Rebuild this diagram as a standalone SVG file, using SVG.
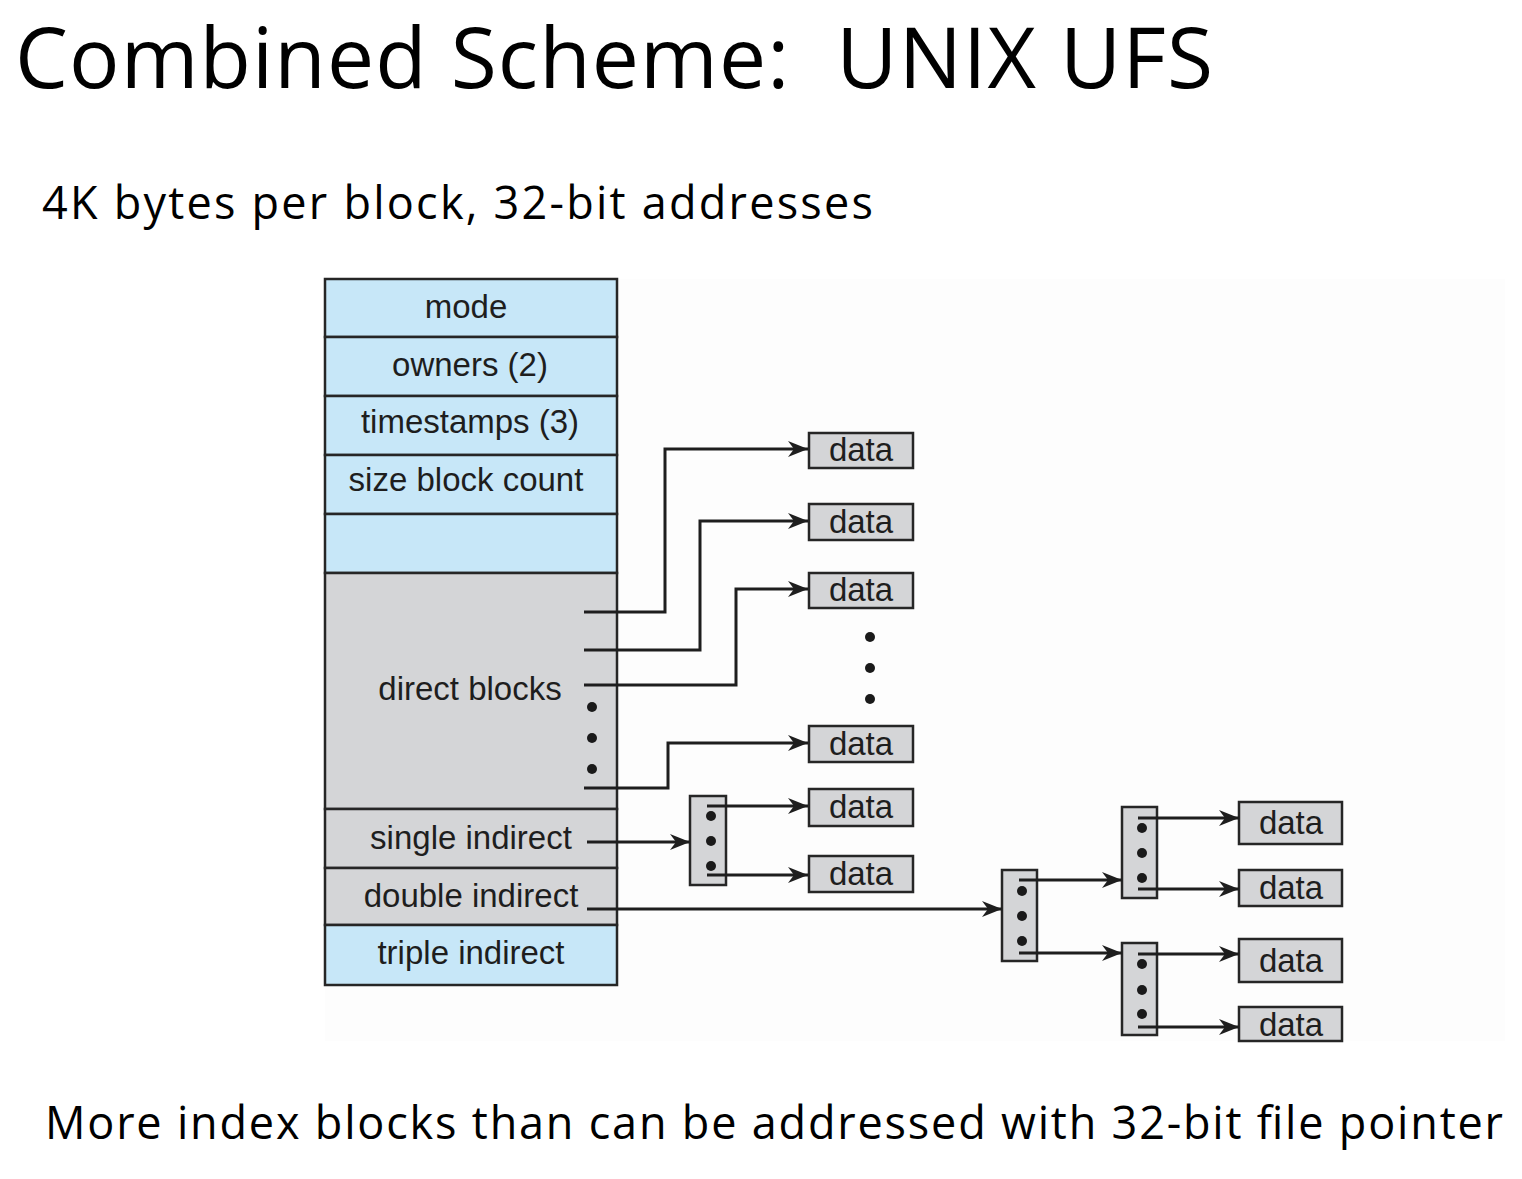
<svg xmlns="http://www.w3.org/2000/svg" width="1522" height="1179" viewBox="0 0 1522 1179">
<style>
.t{font-family:"Open Sans","Liberation Sans",sans-serif;fill:#000;white-space:pre}
.l{font-family:"Liberation Sans",Arial,sans-serif;font-size:33px;fill:#1e1e1e;text-anchor:middle}
.blue{fill:#c7e7f8;stroke:#262626;stroke-width:2.5}
.gray{fill:#d4d5d7;stroke:#262626;stroke-width:2.5}
.c{fill:none;stroke:#1e1e1e;stroke-width:3}
.a{marker-end:url(#ah)}
.d{fill:#1a1a1a}
</style>
<defs>
<marker id="ah" markerUnits="userSpaceOnUse" markerWidth="20" markerHeight="16" refX="20" refY="8" orient="auto">
<path d="M0,0 L20,8 L0,16 L6,8 z" fill="#1e1e1e"/>
</marker>
</defs>
<rect width="1522" height="1179" fill="#fff"/>
<rect x="325" y="279" width="1180" height="762" fill="#fdfdfd"/>
<text class="t" x="15" y="88" font-size="84" textLength="1198" xml:space="preserve">Combined Scheme:  UNIX UFS</text>
<text class="t" x="42" y="219" font-size="45" textLength="831">4K bytes per block, 32-bit addresses</text>
<text class="t" x="45" y="1139" font-size="45" textLength="1458">More index blocks than can be addressed with 32-bit file pointer</text>

<g id="inode">
<rect class="blue" x="325" y="279" width="292" height="58"/>
<rect class="blue" x="325" y="337" width="292" height="59"/>
<rect class="blue" x="325" y="396" width="292" height="59"/>
<rect class="blue" x="325" y="455" width="292" height="59"/>
<rect class="blue" x="325" y="514" width="292" height="59"/>
<rect class="gray" x="325" y="573" width="292" height="236"/>
<rect class="gray" x="325" y="809" width="292" height="59"/>
<rect class="gray" x="325" y="868" width="292" height="57"/>
<rect class="blue" x="325" y="925" width="292" height="60"/>
<text class="l" x="466" y="318">mode</text>
<text class="l" x="470" y="376">owners (2)</text>
<text class="l" x="470" y="433">timestamps (3)</text>
<text class="l" x="466" y="491">size block count</text>
<text class="l" x="470" y="700">direct blocks</text>
<text class="l" x="471" y="849">single indirect</text>
<text class="l" x="471" y="907">double indirect</text>
<text class="l" x="471" y="964">triple indirect</text>
<circle class="d" cx="592" cy="707" r="5"/>
<circle class="d" cx="592" cy="738" r="5"/>
<circle class="d" cx="592" cy="769" r="5"/>
</g>

<g id="data-direct">
<rect class="gray" x="809" y="433" width="104" height="35"/>
<text class="l" x="861" y="461">data</text>
<rect class="gray" x="809" y="504" width="104" height="36"/>
<text class="l" x="861" y="533">data</text>
<rect class="gray" x="809" y="573" width="104" height="35"/>
<text class="l" x="861" y="601">data</text>
<circle class="d" cx="870" cy="637" r="5"/>
<circle class="d" cx="870" cy="668" r="5"/>
<circle class="d" cx="870" cy="699" r="5"/>
<rect class="gray" x="809" y="726" width="104" height="36"/>
<text class="l" x="861" y="755">data</text>
</g>

<g id="single-index">
<rect class="gray" x="690" y="796" width="36" height="89"/>
<circle class="d" cx="711" cy="816" r="5"/>
<circle class="d" cx="711" cy="841" r="5"/>
<circle class="d" cx="711" cy="866" r="5"/>
</g>
<g id="data-single">
<rect class="gray" x="809" y="789" width="104" height="37"/>
<text class="l" x="861" y="818">data</text>
<rect class="gray" x="809" y="856" width="104" height="36"/>
<text class="l" x="861" y="885">data</text>
</g>

<g id="double-index">
<rect class="gray" x="1002" y="870" width="35" height="91"/>
<circle class="d" cx="1022" cy="891" r="5"/>
<circle class="d" cx="1022" cy="916" r="5"/>
<circle class="d" cx="1022" cy="941" r="5"/>
</g>
<g id="index-a">
<rect class="gray" x="1122" y="807" width="35" height="91"/>
<circle class="d" cx="1142" cy="828" r="5"/>
<circle class="d" cx="1142" cy="853" r="5"/>
<circle class="d" cx="1142" cy="878" r="5"/>
</g>
<g id="index-b">
<rect class="gray" x="1122" y="943" width="35" height="92"/>
<circle class="d" cx="1142" cy="964" r="5"/>
<circle class="d" cx="1142" cy="990" r="5"/>
<circle class="d" cx="1142" cy="1014" r="5"/>
</g>
<g id="data-double">
<rect class="gray" x="1239" y="802" width="103" height="42"/>
<text class="l" x="1291" y="834">data</text>
<rect class="gray" x="1239" y="870" width="103" height="36"/>
<text class="l" x="1291" y="899">data</text>
<rect class="gray" x="1239" y="939" width="103" height="43"/>
<text class="l" x="1291" y="972">data</text>
<rect class="gray" x="1239" y="1007" width="103" height="34"/>
<text class="l" x="1291" y="1036">data</text>
</g>

<g id="connectors">
<path class="c a" d="M584,612 H665 V449 H808"/>
<path class="c a" d="M584,650 H700 V521 H808"/>
<path class="c a" d="M584,685 H736 V589 H808"/>
<path class="c a" d="M584,788 H668 V743 H808"/>
<path class="c a" d="M587,842 H690"/>
<path class="c a" d="M707,806 H808"/>
<path class="c a" d="M707,875 H808"/>
<path class="c a" d="M587,909 H1002"/>
<path class="c a" d="M1019,880 H1122"/>
<path class="c a" d="M1019,953 H1122"/>
<path class="c a" d="M1138,818 H1239"/>
<path class="c a" d="M1138,889 H1239"/>
<path class="c a" d="M1138,954 H1239"/>
<path class="c a" d="M1138,1027 H1239"/>
</g>
</svg>
